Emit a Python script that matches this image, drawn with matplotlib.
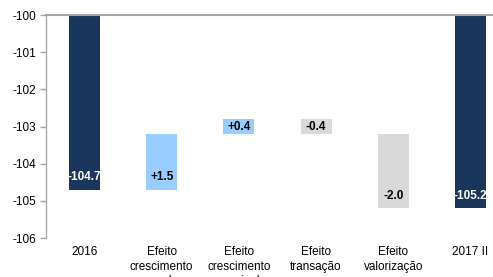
import matplotlib
matplotlib.use("Agg")
import matplotlib.pyplot as plt

plt.rcParams['font.family'] = ['Liberation Sans', 'DejaVu Sans']

categories = ["2016", "Efeito\ncrescimento\nreal", "Efeito\ncrescimento\nnominal",
              "Efeito\ntransação", "Efeito\nvalorização", "2017 II"]
start_value = -104.7
deltas = [1.5, 0.4, -0.4, -2.0]
end_value = -105.2
value_labels = ["-104.7", "+1.5", "+0.4", "-0.4", "-2.0", "-105.2"]
y_ticks = [-106, -105, -104, -103, -102, -101, -100]

navy = "#1B365D"
lightblue = "#99CCFF"
gray = "#D9D9D9"
axis_gray = "#A6A6A6"

ymin, ymax = -106, -100
fs = 8.5

fig = plt.figure(figsize=(4.93, 2.77), dpi=100)
ax = fig.add_axes([46/493, 39/277, (509-46)/493, 223/277])

x = list(range(len(categories)))
bottoms, tops, colors, tcolors = [], [], [], []
bottoms.append(start_value); tops.append(ymax); colors.append(navy); tcolors.append("white")
cum = start_value
for d in deltas:
    new = cum + d
    bottoms.append(min(cum, new)); tops.append(max(cum, new))
    colors.append(lightblue if d > 0 else gray); tcolors.append("black")
    cum = new
bottoms.append(end_value); tops.append(ymax); colors.append(navy); tcolors.append("white")

heights = [t - b for t, b in zip(tops, bottoms)]
ax.bar(x, heights, bottom=bottoms, width=0.40, color=colors, zorder=2)

for i, (b, h) in enumerate(zip(bottoms, heights)):
    if h > 1.0:
        ax.annotate(value_labels[i], (x[i], b), xytext=(0, 9), textcoords="offset points",
                    ha="center", va="center", fontsize=fs, fontweight="bold",
                    color=tcolors[i], zorder=3)
    else:
        ax.text(x[i], b + h/2, value_labels[i], ha="center", va="center",
                fontsize=fs, fontweight="bold", color=tcolors[i], zorder=3)

ax.set_xlim(-0.5, len(categories) - 0.5)
ax.set_ylim(ymin, ymax)
ax.set_yticks(y_ticks)
ax.set_yticklabels([str(v) for v in y_ticks], fontsize=fs)
ax.set_xticks(x)
ax.set_xticklabels(categories, fontsize=fs, linespacing=1.25, va="top")
ax.tick_params(axis="x", length=0, pad=6)
ax.tick_params(axis="y", length=4, width=1, color=axis_gray, pad=3)

for s in ["right", "bottom"]:
    ax.spines[s].set_visible(False)
ax.spines["left"].set_color(axis_gray)
ax.spines["left"].set_linewidth(1)
ax.spines["top"].set_color(axis_gray)
ax.spines["top"].set_linewidth(1.5)
ax.spines["top"].set_zorder(4)

fig.savefig("out.png", dpi=100)
